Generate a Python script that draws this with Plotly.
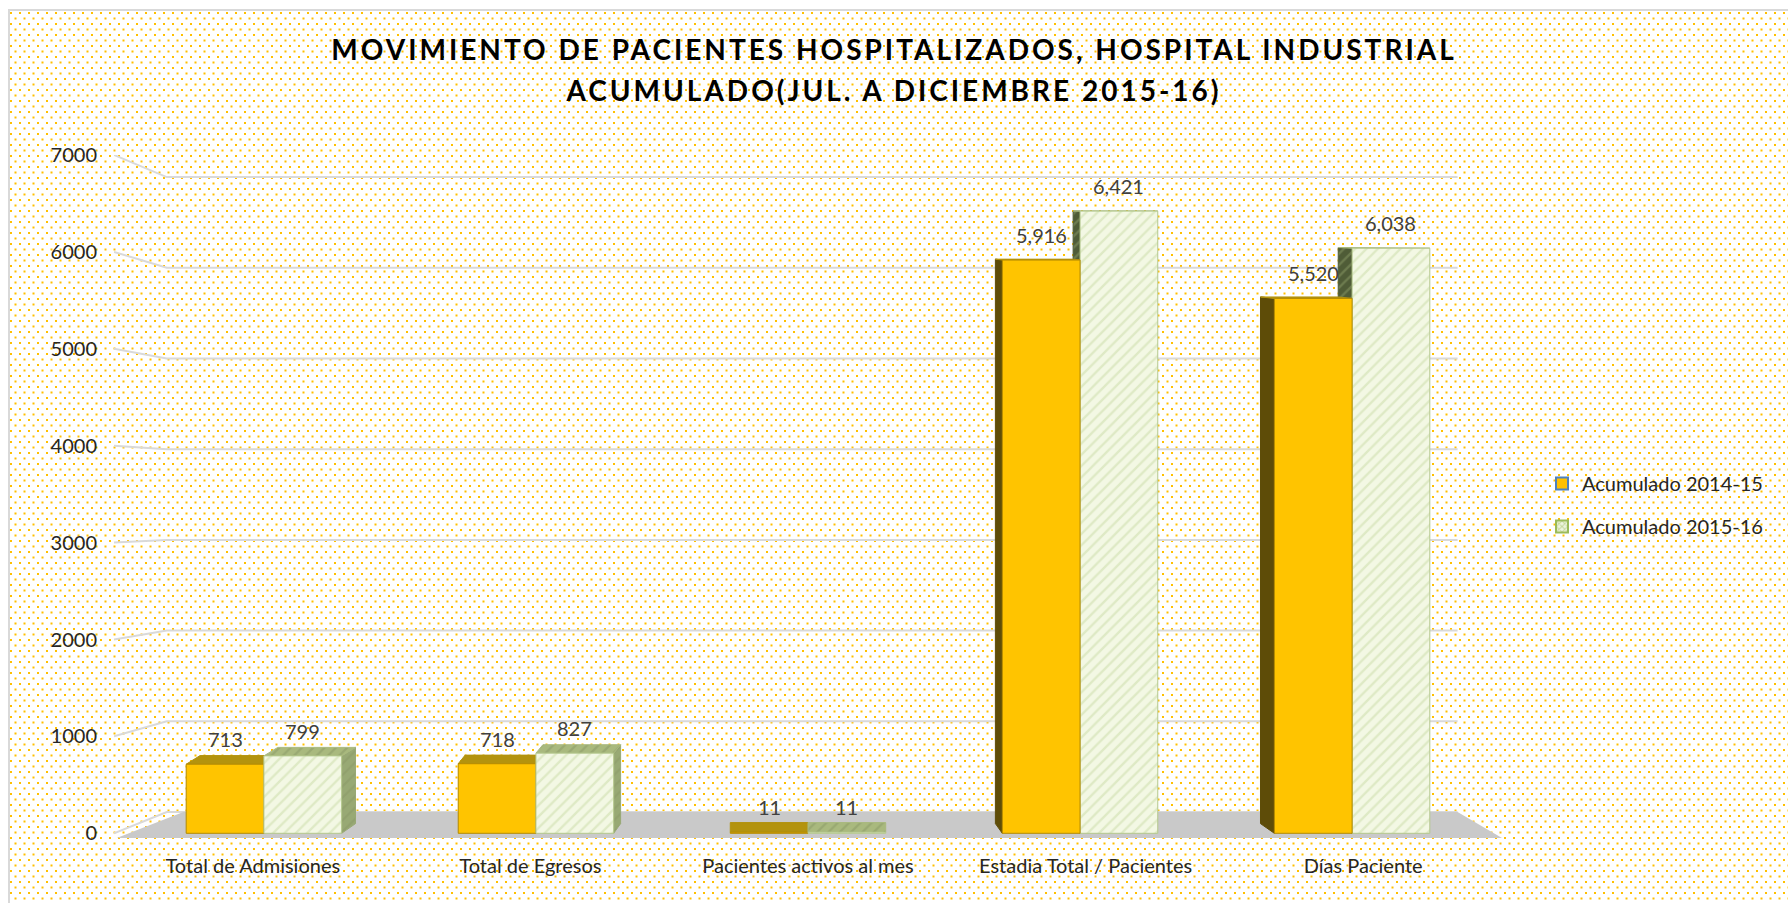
import base64
import plotly.graph_objects as go

# ---------------- data ----------------
categories = ["Total de Admisiones", "Total de Egresos", "Pacientes activos al mes",
              "Estadia Total / Pacientes", "Días Paciente"]
series_names = ["Acumulado 2014-15", "Acumulado 2015-16"]
values_2014_15 = [713, 718, 11, 5916, 5520]
values_2015_16 = [799, 827, 11, 6421, 6038]
y_ticks = [0, 1000, 2000, 3000, 4000, 5000, 6000, 7000]
title_lines = ["MOVIMIENTO DE PACIENTES HOSPITALIZADOS, HOSPITAL INDUSTRIAL",
               "ACUMULADO(JUL. A DICIEMBRE 2015-16)"]

series_values = [values_2014_15, values_2015_16]

# ---------------- geometry / style ----------------
W, H = 1788, 903
ML, MR, MT, MB = 114, 286, 155, 60
PW, PH = W - ML - MR, H - MT - MB
X_RANGE = [-0.5, 4.5]
Y_RANGE = [-100, 7000]
BAR_W = 0.28
FONT = "Lato"

styles = [
    dict(front="#FFC400", front_line="#B38A00", top="#B3930E", side_r="#A8860A",
         side_l="#5E4C08", pattern=None),
    dict(front="#F3F8E4", front_line="#B3C78C", top="#A9B97E", side_r="#98A974",
         side_l="#4F5C37", pattern=dict(shape="/", size=8, solidity=0.3)),
]
pattern_fg = ["", "#C9DCA6"]
pattern_fg_dark = ["", "#8A9A66"]


def poly(xs, ys, fill, line, pattern=None, fg=None, lw=1):
    kw = dict(x=xs + [xs[0]], y=ys + [ys[0]], mode="lines", fill="toself",
              fillcolor=fill, line=dict(color=line, width=lw),
              showlegend=False, hoverinfo="skip")
    if pattern:
        kw["fillpattern"] = dict(shape=pattern["shape"], size=pattern["size"],
                                 solidity=pattern["solidity"], fgcolor=fg, bgcolor=fill)
    return go.Scatter(**kw)


fig = go.Figure()
annotations = []
n = len(categories)
mid = (n - 1) / 2
for i in range(n):
    shift = 0.02 * (mid - i)
    dx = 0.025 * (mid - i)
    order = [0, 1] if dx >= 0 else [1, 0]
    for s in order:
        v = series_values[s][i]
        st = styles[s]
        xl = i + shift + (s - 1) * BAR_W
        xr = xl + BAR_W
        dy_top = max(0.0, 100 * (1 - v / 6500))
        dy_bot = 100
        # side face
        if dx != 0:
            edge = xr if dx > 0 else xl
            col = st["side_r"] if dx > 0 else st["side_l"]
            fig.add_trace(poly([edge, edge, edge + dx, edge + dx],
                               [0, v, v + dy_top, dy_bot], col, col,
                               st["pattern"], pattern_fg_dark[s] if st["pattern"] else None))
        # top face
        if dy_top > 0:
            fig.add_trace(poly([xl, xr, xr + dx, xl + dx],
                               [v, v, v + dy_top, v + dy_top], st["top"], st["top"],
                               st["pattern"], pattern_fg_dark[s] if st["pattern"] else None))
        # front face
        fig.add_trace(poly([xl, xr, xr, xl], [0, 0, v, v], st["front"], st["front_line"],
                           st["pattern"], pattern_fg[s] if st["pattern"] else None))
        annotations.append(dict(x=(xl + xr) / 2, y=v, xref="x", yref="y", text=f"{v:,}",
                                showarrow=False, yshift=25, yanchor="middle",
                                font=dict(family=FONT, size=20, color="#404040")))

# legend entries
fig.add_trace(go.Bar(x=[None], y=[None], name=series_names[0], legendgroup="a",
                     marker=dict(color="#FFC000", line=dict(color="#4F81BD", width=2))))
fig.add_trace(go.Bar(x=[None], y=[None], name=series_names[1], legendgroup="b",
                     marker=dict(color="#EEF4DF", line=dict(color="#9BBB59", width=2),
                                 pattern=dict(shape="x", fgcolor="#9BBB59", size=5,
                                              solidity=0.45))))

# gridlines (back wall) and floor
shapes = []
for v in y_ticks:
    vb = 220 + v * 0.936
    shapes.append(dict(type="path", xref="x", yref="y", layer="below",
                       path=f"M -0.5,{v} L -0.31,{vb} L 4.34,{vb}",
                       line=dict(color="#D9D9D9", width=2)))
shapes.append(dict(type="path", xref="x", yref="y", layer="below",
                   path="M -0.49,-49 L 4.5,-49 L 4.34,220 L -0.25,220 Z",
                   fillcolor="#C9C9C9", line=dict(width=0)))

# dotted background
svg = (f'<svg xmlns="http://www.w3.org/2000/svg" width="{W}" height="{H}" viewBox="0 0 {W} {H}">'
       '<defs><pattern id="d" width="9" height="11" patternUnits="userSpaceOnUse">'
       '<rect x="1" y="1" width="2" height="2" fill="#FFC000"/>'
       '<rect x="5.5" y="6.5" width="2" height="2" fill="#FFC000"/></pattern></defs>'
       f'<rect x="10" y="11" width="{W - 10}" height="{H - 11}" fill="url(#d)"/>'
       f'<rect x="9" y="10" width="{W + 10}" height="{H + 10}" fill="none" stroke="#D9D9D9" stroke-width="2"/>'
       '</svg>')
src = "data:image/svg+xml;base64," + base64.b64encode(svg.encode()).decode()

fig.update_layout(
    width=W, height=H,
    margin=dict(l=ML, r=MR, t=MT, b=MB),
    paper_bgcolor="white", plot_bgcolor="rgba(0,0,0,0)",
    font=dict(family=FONT, size=20, color="#262626"),
    title=dict(text="<br>".join(title_lines), x=0.5, xanchor="center",
               y=1 - 60 / H, yanchor="top", yref="container",
               font=dict(family=FONT, size=28, color="#000000", weight="bold")),
    xaxis=dict(range=X_RANGE, tickvals=list(range(n)), ticktext=categories,
               showgrid=False, zeroline=False, showline=False, ticks="",
               ticklabelstandoff=9, fixedrange=True, automargin=False),
    yaxis=dict(range=Y_RANGE, tickvals=y_ticks, showgrid=False, zeroline=False,
               showline=False, ticks="", ticklabelstandoff=16, fixedrange=True,
               automargin=False),
    legend=dict(x=1542 / W, xref="container", xanchor="left", y=1 - 464 / H,
                yref="container", yanchor="top", tracegroupgap=14,
                bgcolor="rgba(0,0,0,0)", font=dict(family=FONT, size=20, color="#262626")),
    shapes=shapes,
    annotations=annotations,
    images=[dict(source=src, xref="paper", yref="paper", x=-ML / PW, y=1 + MT / PH,
                 sizex=W / PW, sizey=H / PH, xanchor="left", yanchor="top",
                 sizing="stretch", layer="below")],
    showlegend=True,
)

post_js = (
    "document.body.style.margin='0';"
    "document.querySelectorAll('.gtitle').forEach(function(e){"
    "e.style.letterSpacing='3px';"
    "var ls=e.querySelectorAll('tspan.line'); if(ls.length>1){ls[1].setAttribute('dy','1.45em');}"
    "});"
)

fig.write_html("out.html", post_script=post_js, config={"displayModeBar": False})
